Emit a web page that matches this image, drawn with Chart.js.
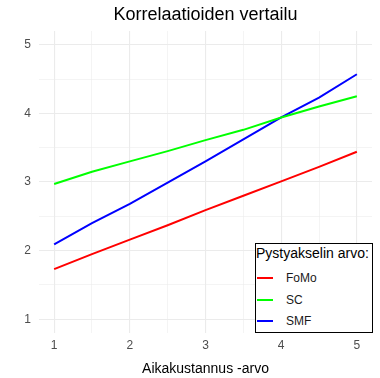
<!DOCTYPE html>
<html>
<head>
<meta charset="utf-8">
<script src="https://cdn.jsdelivr.net/npm/chart.js@4"></script>
<style>
  html, body { margin: 0; padding: 0; background: #fff; }
  #wrap { position: relative; width: 380px; height: 378px; font-family: 'Liberation Sans', Arial, sans-serif; }
  #title { position: absolute; left: 39px; width: 333px; top: 4px; text-align: center; font-size: 18px; color: #000; }
  #legend { position: absolute; left: 255px; top: 243px; width: 118px; height: 90px; border: 1px solid #000; background: #fff; box-sizing: border-box; }
  #legend .lt { position: absolute; left: 0px; top: 1px; font-size: 14px; color: #000; white-space: nowrap; }
  #legend .row { position: absolute; left: 1px; height: 14px; }
  #legend .sw { position: absolute; left: 0; top: 6px; width: 16px; height: 2px; }
  #legend .lb { position: absolute; left: 29px; top: 0; font-size: 12px; color: #1a1a1a; }
</style>
</head>
<body>
<div id="wrap">
  <canvas id="c" width="380" height="378"></canvas>
  <div id="title">Korrelaatioiden vertailu</div>
  <div id="legend"></div>
</div>
<script>
// x positions and series values
const xValues = [1, 1.5, 2, 2.5, 3, 3.5, 4, 4.5, 5];
const fomo = [1.73, 1.95, 2.16, 2.37, 2.59, 2.80, 3.01, 3.22, 3.44];
const sc   = [2.97, 3.15, 3.30, 3.45, 3.61, 3.76, 3.94, 4.10, 4.25];
const smf  = [2.09, 2.40, 2.68, 2.99, 3.30, 3.62, 3.94, 4.23, 4.57];

const seriesNames = ['FoMo', 'SC', 'SMF'];
const seriesColors = ['#ff0000', '#00ff00', '#0000ff'];
const seriesValues = [fomo, sc, smf];

const legendTitle = 'Pystyakselin arvo:';
const xTitle = 'Aikakustannus -arvo';

const ticks = { color: '#4d4d4d', font: { family: "'Liberation Sans', Arial, sans-serif", size: 12 } };

const grid = {
  color: '#ebebeb',
  lineWidth: (c) => (c.tick && c.tick.value % 1 === 0) ? 1.1 : 0.55,
  drawTicks: false
};

const datasets = seriesNames.map((name, i) => ({
  label: name,
  data: xValues.map((x, j) => ({ x, y: seriesValues[i][j] })),
  borderColor: seriesColors[i],
  backgroundColor: seriesColors[i],
  borderWidth: 2,
  pointRadius: 0,
  tension: 0,
  fill: false
}));

new Chart(document.getElementById('c'), {
  type: 'line',
  data: { datasets },
  options: {
    responsive: false,
    animation: false,
    layout: { padding: { left: 0, right: 8, top: 31, bottom: 0 } },
    plugins: {
      legend: { display: false },
      title: { display: false },
      tooltip: { enabled: false }
    },
    scales: {
      x: {
        type: 'linear',
        min: 0.8, max: 5.2,
        border: { display: false },
        grid,
        ticks: {
          ...ticks,
          stepSize: 0.5,
          includeBounds: false,
          padding: 5,
          callback: (v) => v % 1 === 0 ? String(v) : ''
        },
        title: {
          display: true,
          text: xTitle,
          color: '#000',
          font: { family: "'Liberation Sans', Arial, sans-serif", size: 14 },
          padding: { top: 2, bottom: 0 }
        },
        afterFit: (s) => { s.height = 45; }
      },
      y: {
        type: 'linear',
        min: 0.8, max: 5.2,
        border: { display: false },
        grid,
        ticks: {
          ...ticks,
          stepSize: 0.5,
          includeBounds: false,
          padding: 8,
          callback: (v) => v % 1 === 0 ? String(v) : ''
        },
        afterFit: (s) => { s.width = 39; }
      }
    }
  }
});

// legend box in the bottom right of the plot
const lg = document.getElementById('legend');
const t = document.createElement('div');
t.className = 'lt';
t.textContent = legendTitle;
lg.appendChild(t);
seriesNames.forEach((name, i) => {
  const row = document.createElement('div');
  row.className = 'row';
  row.style.top = (27 + i * 21.5) + 'px';
  const sw = document.createElement('div');
  sw.className = 'sw';
  sw.style.background = seriesColors[i];
  const lb = document.createElement('div');
  lb.className = 'lb';
  lb.textContent = name;
  row.appendChild(sw);
  row.appendChild(lb);
  lg.appendChild(row);
});
</script>
</body>
</html>
